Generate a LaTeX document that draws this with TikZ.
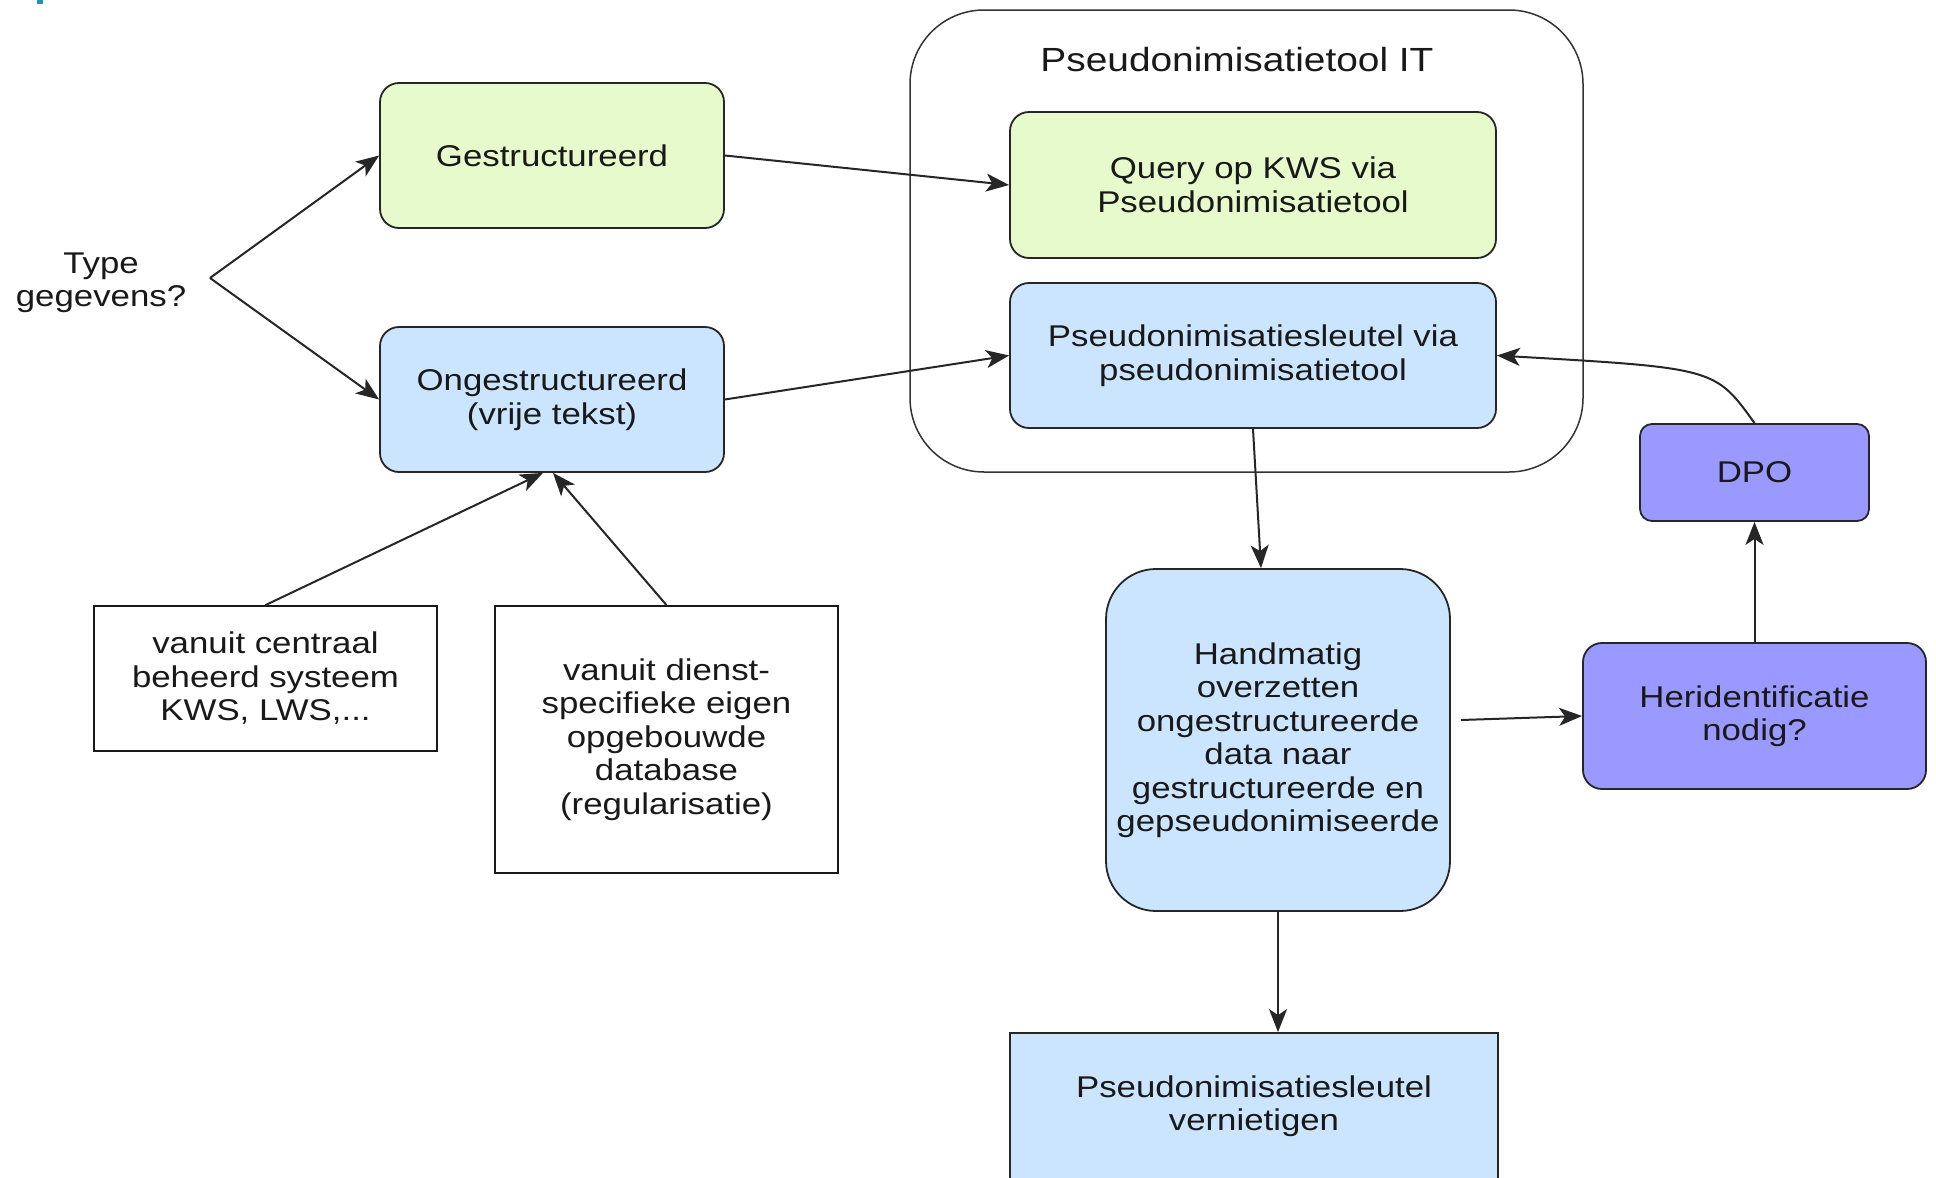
\documentclass[tikz,border=0pt]{standalone}
\usepackage{fontspec}
\setmainfont[FakeStretch=1.16]{Liberation Sans}
\usepackage{xcolor}
\usetikzlibrary{arrows.meta,calc,positioning}

\definecolor{groen}{RGB}{230,250,204}
\definecolor{blauw}{RGB}{204,229,255}
\definecolor{paars}{RGB}{153,153,255}
\definecolor{merkblauw}{RGB}{32,150,190}

\tikzset{
	tekst/.style={font=\fontsize{30}{33.5}\selectfont, text=black!90, align=center, inner sep=0pt},
	vak/.style={tekst, draw=black!85, line width=1.8pt, rounded corners=19pt},
	bron/.style={tekst, draw=black!90, line width=1.8pt, fill=white},
	pijl/.style={draw=black!85, line width=2pt, -{Stealth[length=23pt,width=18pt,inset=6pt]}}
}

\begin{document}
\begin{tikzpicture}[x=1pt,y=-1pt]
		\useasboundingbox (0,0) rectangle (1936,1178);
		\fill[merkblauw] (37,0) rectangle (43,4);
		
		% container
		\node[draw=black!80, line width=1.5pt, rounded corners=74pt, minimum width=673pt, minimum height=462pt] (tool) at (1246.5,241) {};
		\node[tekst, font=\fontsize{33.5}{37}\selectfont] (tooltitel) at (1237,60) {Pseudonimisatietool IT};
		
		\node[tekst] (type) at (101,283) {Type\\gegevens?};
		\coordinate (fork) at (210,278);
		
		\node[vak, fill=groen, minimum width=344pt, minimum height=145pt] (gestr) at (552,155.5) {Gestructureerd};
		\node[vak, fill=blauw, minimum width=344pt, minimum height=145pt] (ongestr) at (552,399.5) {Ongestructureerd\\(vrije tekst)};
		
		\node[vak, fill=groen, minimum width=486pt, minimum height=146pt] (query) at (1253,185) {Query op KWS via\\Pseudonimisatietool};
		\node[vak, fill=blauw, minimum width=486pt, minimum height=145pt] (sleutel) at (1253,355.5) {Pseudonimisatiesleutel via\\pseudonimisatietool};
		
		\node[bron, minimum width=343pt, minimum height=145pt] (bron1) at (265.5,678.5) {vanuit centraal\\beheerd systeem\\KWS, LWS,...};
		\node[bron, minimum width=343pt, minimum height=267pt] (bron2) at (666.5,739.5) {vanuit dienst-\\specifieke eigen\\opgebouwde\\database\\(regularisatie)};
		
		\node[vak, fill=blauw, rounded corners=50pt, minimum width=344pt, minimum height=342pt] (handm) at (1278,740) {Handmatig\\overzetten\\ongestructureerde\\data naar\\gestructureerde en\\gepseudonimiseerde};
		\node[vak, fill=paars, minimum width=343pt, minimum height=146pt] (herid) at (1754.5,716) {Heridentificatie\\nodig?};
		\node[vak, fill=paars, rounded corners=12pt, minimum width=229pt, minimum height=97pt] (dpo) at (1754.5,472.5) {DPO};
		\node[vak, fill=blauw, rounded corners=0pt, minimum width=488pt, minimum height=146pt] (vernietig) at (1254,1106) {Pseudonimisatiesleutel\\vernietigen};
		
		\draw[pijl] (fork) -- (gestr.west);
		\draw[pijl] (fork) -- (ongestr.west);
		\draw[pijl] (gestr.east) -- (query.west);
		\draw[pijl] (ongestr.east) -- (sleutel.west);
		\draw[pijl] (bron1.north) -- ([xshift=-9pt]ongestr.south);
		\draw[pijl] (bron2.north) -- ([xshift=1pt]ongestr.south);
		\draw[pijl] (sleutel.south) -- ([xshift=-17pt]handm.north);
		\coordinate (hmuit) at (1461,720);
		\draw[pijl] (hmuit) -- (herid.west);
		\draw[pijl] (herid.north) -- (dpo.south);
		\draw[pijl] (dpo.north) .. controls (1715,368) .. (sleutel.east);
		\draw[pijl] (handm.south) -- (handm.south |- vernietig.north);
\end{tikzpicture}
\end{document}
